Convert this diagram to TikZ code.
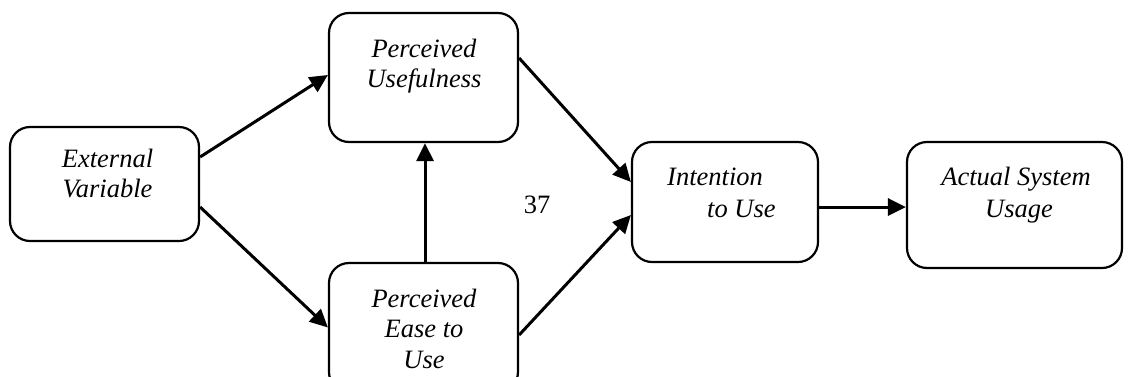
\documentclass[tikz,border=0pt]{standalone}
\usepackage{fontspec}
\setmainfont{Liberation Serif}
\usetikzlibrary{arrows.meta}
\tikzset{
  box/.style={draw, line width=2.2pt, rounded corners=20pt, inner sep=0pt},
  txt/.style={inner sep=0pt, anchor=base, font=\fontsize{26.5}{31}\selectfont\itshape},
  txtl/.style={txt, anchor=base west},
  num/.style={inner sep=0pt, font=\fontsize{26.5}{31}\selectfont},
  arr/.style={line width=3pt, -{Triangle[length=18pt,width=17pt]}}
}
\begin{document}
\begin{tikzpicture}[x=1pt,y=-1pt]
\useasboundingbox (0,0) rectangle (1128,376);
\clip (0,0) rectangle (1128,376);
% boxes
\node[box, minimum width=189pt, minimum height=114pt] (ext) at (104.5,184) {};
\node[box, minimum width=189pt, minimum height=129pt] (pu) at (423.5,77.5) {};
\node[box, minimum width=189pt, minimum height=129pt] (peu) at (423.5,327.5) {};
\node[box, minimum width=186pt, minimum height=120pt] (int) at (725,202) {};
\node[box, minimum width=215pt, minimum height=126pt] (act) at (1014.5,205) {};
% texts
\node[txt] (ext1) at (107.5,167) {External};
\node[txt] (ext2) at (107.5,197) {Variable};
\node[txt] (pu1) at (424,57) {Perceived};
\node[txt] (pu2) at (424,87) {Usefulness};
\node[txt] (peu1) at (424,307) {Perceived};
\node[txt] (peu2) at (424,337) {Ease to};
\node[txt] (peu3) at (424,368) {Use};
\node[txtl] (int1) at (667,185) {Intention};
\node[txtl] (int2) at (707,217) {to Use};
\node[txt] (act1) at (1016,185) {Actual System};
\node[txt] (act2) at (1019,217) {Usage};
\node[num, anchor=base] (n37) at (537,213) {37};
% connectors
\draw[arr] ([yshift=27pt]ext.east) -- ([yshift=2.5pt]pu.west);
\draw[arr] ([yshift=-23pt]ext.east) -- (peu.west);
\draw[arr] ([xshift=1.5pt]peu.north) -- ([xshift=1.5pt]pu.south);
\draw[arr] ([yshift=19.5pt]pu.east) -- ([yshift=20pt]int.west);
\draw[arr] ([yshift=-7.5pt]peu.east) -- ([yshift=-13pt]int.west);
\draw[arr] ([yshift=-5pt]int.east) -- ([yshift=-5pt]int.east -| act.west);
\end{tikzpicture}
\end{document}
